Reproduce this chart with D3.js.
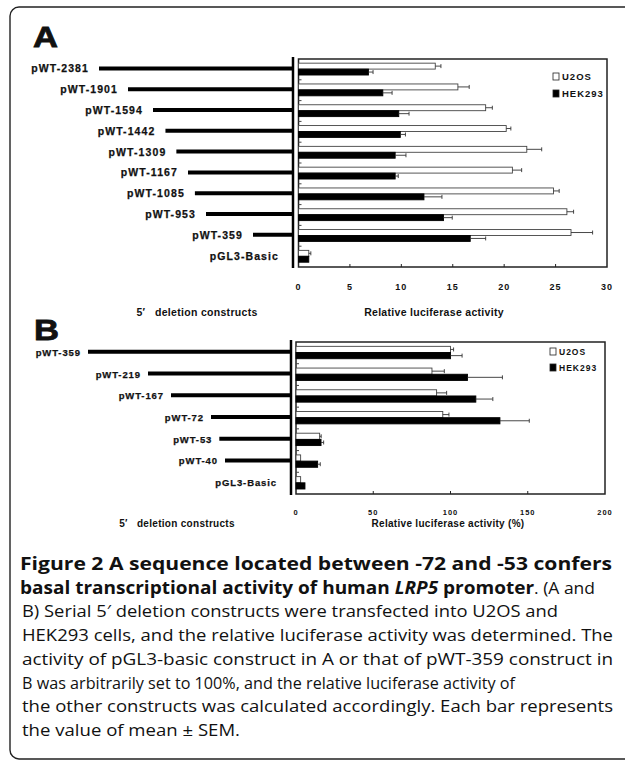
<!DOCTYPE html>
<html lang="en">
<head>
<meta charset="UTF-8">
<title>Figure 2 - LRP5 promoter deletion constructs</title>
<script src="https://d3js.org/d3.v7.min.js"></script>
<style>
    html, body { margin: 0; background: #fff; overflow: hidden; }
    svg { display: block; }
    .lab { font-family: "Liberation Sans", Arial, sans-serif; font-weight: bold; fill: #111; }
    .cap { font-family: "Open Sans", "Noto Sans", sans-serif; fill: #111; }
</style>
</head>
<body>
<svg width="625" height="761"></svg>
<script>
    // panel A
    const aCats = ["pWT-2381", "pWT-1901", "pWT-1594", "pWT-1442", "pWT-1309",
                   "pWT-1167", "pWT-1085", "pWT-953", "pWT-359", "pGL3-Basic"];
    const aBp = [2381, 1901, 1594, 1442, 1309, 1167, 1085, 953, 359, 0];
    const aU2OS = [13.3, 15.5, 18.2, 20.2, 22.2, 20.8, 24.8, 26.1, 26.5, 1.0];
    const aU2OSErr = [0.55, 1.1, 0.65, 0.45, 1.45, 0.9, 0.55, 0.65, 2.1, 0.2];
    const aHEK = [6.8, 8.2, 9.75, 9.9, 9.4, 9.4, 12.2, 14.1, 16.7, 1.0];
    const aHEKErr = [0.45, 0.9, 1.0, 0.5, 1.05, 0.3, 1.75, 0.85, 1.5, 0];
    const aTicks = [0, 5, 10, 15, 20, 25, 30];

    // panel B
    const bCats = ["pWT-359", "pWT-219", "pWT-167", "pWT-72", "pWT-53", "pWT-40", "pGL3-Basic"];
    const bBp = [359, 219, 167, 72, 53, 40, 0];
    const bU2OS = [100, 88, 91, 95, 15.3, 3, 3];
    const bU2OSErr = [2, 8, 6.5, 4, 1, 0, 0];
    const bHEK = [100, 111, 116.4, 132, 16.2, 14, 5.8];
    const bHEKErr = [7.5, 22.6, 11, 19, 1.7, 1.7, 0];
    const bTicks = [0, 50, 100, 150, 200];

    const series = ["U2OS", "HEK293"];
    const fills = { U2OS: "#fff", HEK293: "#000" };

    const svg = d3.select("svg");

    // rounded frame: left, top and bottom only, the right side is off the page
    const fr = d3.path();
    fr.moveTo(700, 7);
    fr.lineTo(19, 7);
    fr.arcTo(10, 7, 10, 16, 9);
    fr.lineTo(10, 750);
    fr.arcTo(10, 759, 19, 759, 9);
    fr.lineTo(700, 759);
    svg.append("path")
        .attr("d", fr.toString())
        .attr("fill", "none").attr("stroke", "#222").attr("stroke-width", 1.4);

    function panel(p) {
        const g = svg.append("g");
        const x = d3.scaleLinear().domain(p.xDomain).range([p.left, p.right]);
        const y = d3.scaleBand().domain(p.cats).range([p.top, p.bottom]);
        const ys = d3.scaleBand().domain(series)
            .range([y.bandwidth() * 0.2, y.bandwidth() * 0.77]);
        const bp = d3.scaleLinear().domain(p.bpDomain).range(p.bpRange);

        const rows = p.cats.map((c, i) => ({
            cat: c, bp: p.bp[i],
            bars: [
                { s: "U2OS", v: p.u2os[i], e: p.u2osErr[i] },
                { s: "HEK293", v: p.hek[i], e: p.hekErr[i] }
            ]
        }));

        // panel letter
        g.append("text").attr("class", "lab")
            .attr("x", p.letterX).attr("y", p.letterY)
            .attr("font-size", 30).attr("font-weight", 900)
            .attr("stroke", "#111").attr("stroke-width", 0.8)
            .attr("textLength", 25).attr("lengthAdjust", "spacingAndGlyphs")
            .text(p.letter);

        // construct schematic
        g.selectAll(".cline")
            .data(rows.filter(d => d.bp > 0))
            .join("line")
            .attr("x1", d => bp(d.bp)).attr("x2", p.spineX)
            .attr("y1", d => y(d.cat) + y.bandwidth() / 2 - 1)
            .attr("y2", d => y(d.cat) + y.bandwidth() / 2 - 1)
            .attr("stroke", "#000").attr("stroke-width", 4);

        g.selectAll(".clab")
            .data(rows)
            .join("text").attr("class", "lab")
            .attr("x", d => d.bp > 0 ? bp(d.bp) - p.labGap : p.spineX - 14)
            .attr("y", d => y(d.cat) + y.bandwidth() / 2 + 3)
            .attr("text-anchor", "end")
            .attr("font-size", p.labSize)
            .attr("letter-spacing", p.labSpacing)
            .attr("stroke", "#111").attr("stroke-width", 0.25)
            .text(d => d.cat);

        g.append("line")
            .attr("x1", p.spineX).attr("x2", p.spineX)
            .attr("y1", p.top - 2).attr("y2", p.bottom + 1)
            .attr("stroke", "#000").attr("stroke-width", 2.5);

        // plot frame
        g.append("rect")
            .attr("x", p.left).attr("y", p.top)
            .attr("width", p.right - p.left).attr("height", p.bottom - p.top)
            .attr("fill", "none").attr("stroke", "#222").attr("stroke-width", 1.5);

        // inward ticks
        g.selectAll(".xt")
            .data(p.ticks.slice(1, -1))
            .join("line")
            .attr("x1", d => x(d)).attr("x2", d => x(d))
            .attr("y1", p.bottom).attr("y2", p.bottom - 3)
            .attr("stroke", "#222");
        g.selectAll(".yt")
            .data(p.cats.slice(0, -1))
            .join("line")
            .attr("x1", p.left).attr("x2", p.left + 3)
            .attr("y1", d => y(d) + y.bandwidth())
            .attr("y2", d => y(d) + y.bandwidth())
            .attr("stroke", "#444");

        g.selectAll(".xl")
            .data(p.ticks)
            .join("text").attr("class", "lab")
            .attr("x", d => x(d)).attr("y", p.tickY)
            .attr("text-anchor", "middle")
            .attr("font-size", p.tickSize).attr("letter-spacing", 1)
            .text(d => d);

        // bars + error bars
        const row = g.selectAll(".row")
            .data(rows)
            .join("g")
            .attr("transform", d => `translate(0,${y(d.cat)})`);

        row.selectAll("rect")
            .data(d => d.bars)
            .join("rect")
            .attr("x", x(0))
            .attr("y", d => ys(d.s))
            .attr("width", d => x(d.v) - x(0))
            .attr("height", ys.bandwidth())
            .attr("fill", d => fills[d.s])
            .attr("stroke", d => d.s === "U2OS" ? "#444" : "#000")
            .attr("stroke-width", 0.9);

        const eb = row.selectAll(".eb")
            .data(d => d.bars.filter(b => b.e > 0))
            .join("g");
        eb.append("line")
            .attr("x1", d => x(d.v)).attr("x2", d => x(d.v + d.e))
            .attr("y1", d => ys(d.s) + ys.bandwidth() / 2)
            .attr("y2", d => ys(d.s) + ys.bandwidth() / 2)
            .attr("stroke", "#333").attr("stroke-width", 0.9);
        eb.append("line")
            .attr("x1", d => x(d.v + d.e)).attr("x2", d => x(d.v + d.e))
            .attr("y1", d => ys(d.s) + ys.bandwidth() / 2 - 2)
            .attr("y2", d => ys(d.s) + ys.bandwidth() / 2 + 2)
            .attr("stroke", "#333").attr("stroke-width", 0.9);

        // legend
        const lg = g.selectAll(".lg")
            .data(series)
            .join("g")
            .attr("transform", (d, i) => `translate(${p.legX},${p.legY + i * p.legStep})`);
        lg.append("rect")
            .attr("x", 0).attr("y", -6).attr("width", 6).attr("height", 7)
            .attr("fill", d => fills[d]).attr("stroke", "#222").attr("stroke-width", 0.8);
        lg.append("text").attr("class", "lab")
            .attr("x", 9).attr("y", 1)
            .attr("font-size", p.legSize).attr("letter-spacing", 1)
            .text(d => d);

        // axis titles
        g.append("text").attr("class", "lab")
            .attr("x", p.leftTitleX).attr("y", p.titleY)
            .attr("text-anchor", "middle").attr("font-size", p.titleSize)
            .attr("letter-spacing", 0.3)
            .attr("xml:space", "preserve")
            .text("5\u2032   deletion constructs");
        g.append("text").attr("class", "lab")
            .attr("x", p.rightTitleX).attr("y", p.titleY)
            .attr("text-anchor", "middle").attr("font-size", p.titleSize)
            .attr("letter-spacing", 0.3)
            .text(p.xTitle);
    }

    panel({
        letter: "A", letterX: 33, letterY: 47,
        cats: aCats, bp: aBp, u2os: aU2OS, u2osErr: aU2OSErr, hek: aHEK, hekErr: aHEKErr,
        ticks: aTicks, xDomain: [0, 30],
        left: 298.5, right: 607, top: 59, bottom: 267, spineX: 293,
        bpDomain: [0, 359, 953, 1167, 1594, 1901, 2381],
        bpRange: [293, 253, 206, 188, 153, 128, 99],
        labGap: 10, labSize: 10.5, labSpacing: 1.1,
        tickY: 290, tickSize: 9,
        legX: 553, legY: 79, legStep: 17, legSize: 9.5,
        titleY: 316, titleSize: 10.5, leftTitleX: 197, rightTitleX: 434,
        xTitle: "Relative luciferase activity"
    });

    panel({
        letter: "B", letterX: 34, letterY: 340,
        cats: bCats, bp: bBp, u2os: bU2OS, u2osErr: bU2OSErr, hek: bHEK, hekErr: bHEKErr,
        ticks: bTicks, xDomain: [0, 200],
        left: 296, right: 605, top: 342, bottom: 494, spineX: 291,
        bpDomain: [0, 40, 72, 167, 219, 359],
        bpRange: [291, 225, 211, 171, 148, 88],
        labGap: 7, labSize: 9.5, labSpacing: 0.9,
        tickY: 515, tickSize: 7.5,
        legX: 550, legY: 354, legStep: 16, legSize: 8.5,
        titleY: 527, titleSize: 10, leftTitleX: 177, rightTitleX: 448,
        xTitle: "Relative luciferase activity (%)"
    });

    // figure caption (justified lines, right ends)
    const capBold = [
        [{ t: "Figure 2 A sequence located between -72 and -53 confers", w: "bold" }],
        [{ t: "basal transcriptional activity of human ", w: "bold" },
         { t: "LRP5", w: "bold", i: true },
         { t: " promoter", w: "bold" },
         { t: ". (A and", w: "normal" }]
    ];
    const capBody = [
        "B) Serial 5\u2032 deletion constructs were transfected into U2OS and",
        "HEK293 cells, and the relative luciferase activity was determined. The",
        "activity of pGL3-basic construct in A or that of pWT-359 construct in",
        "B was arbitrarily set to 100%, and the relative luciferase activity of",
        "the other constructs was calculated accordingly. Each bar represents",
        "the value of mean \u00b1 SEM."
    ];
    const capEnds = [612, 595, 558, 613, 613, 515, 613, 240];
    const capLines = capBold.concat(capBody.map(t => [{ t: t, w: "normal" }]));

    const capY = d3.scaleLinear().domain([0, capLines.length - 1]).range([570, 736]);
    const capX0 = (d) => d[0].w === "bold" ? 20 : 22;
    const cap = svg.selectAll(".capline")
        .data(capLines)
        .join("text").attr("class", "cap")
        .attr("x", capX0)
        .attr("y", (d, i) => capY(i))
        .attr("font-size", 17)
        .attr("textLength", (d, i) => capEnds[i] - capX0(d))
        .attr("lengthAdjust", "spacingAndGlyphs")
        .attr("xml:space", "preserve");
    cap.selectAll("tspan")
        .data(d => d)
        .join("tspan")
        .attr("font-weight", d => d.w)
        .attr("font-style", d => d.i ? "italic" : "normal")
        .attr("font-size", d => d.w === "bold" ? 18.5 : 17)
        .text(d => d.t);
</script>
</body>
</html>
